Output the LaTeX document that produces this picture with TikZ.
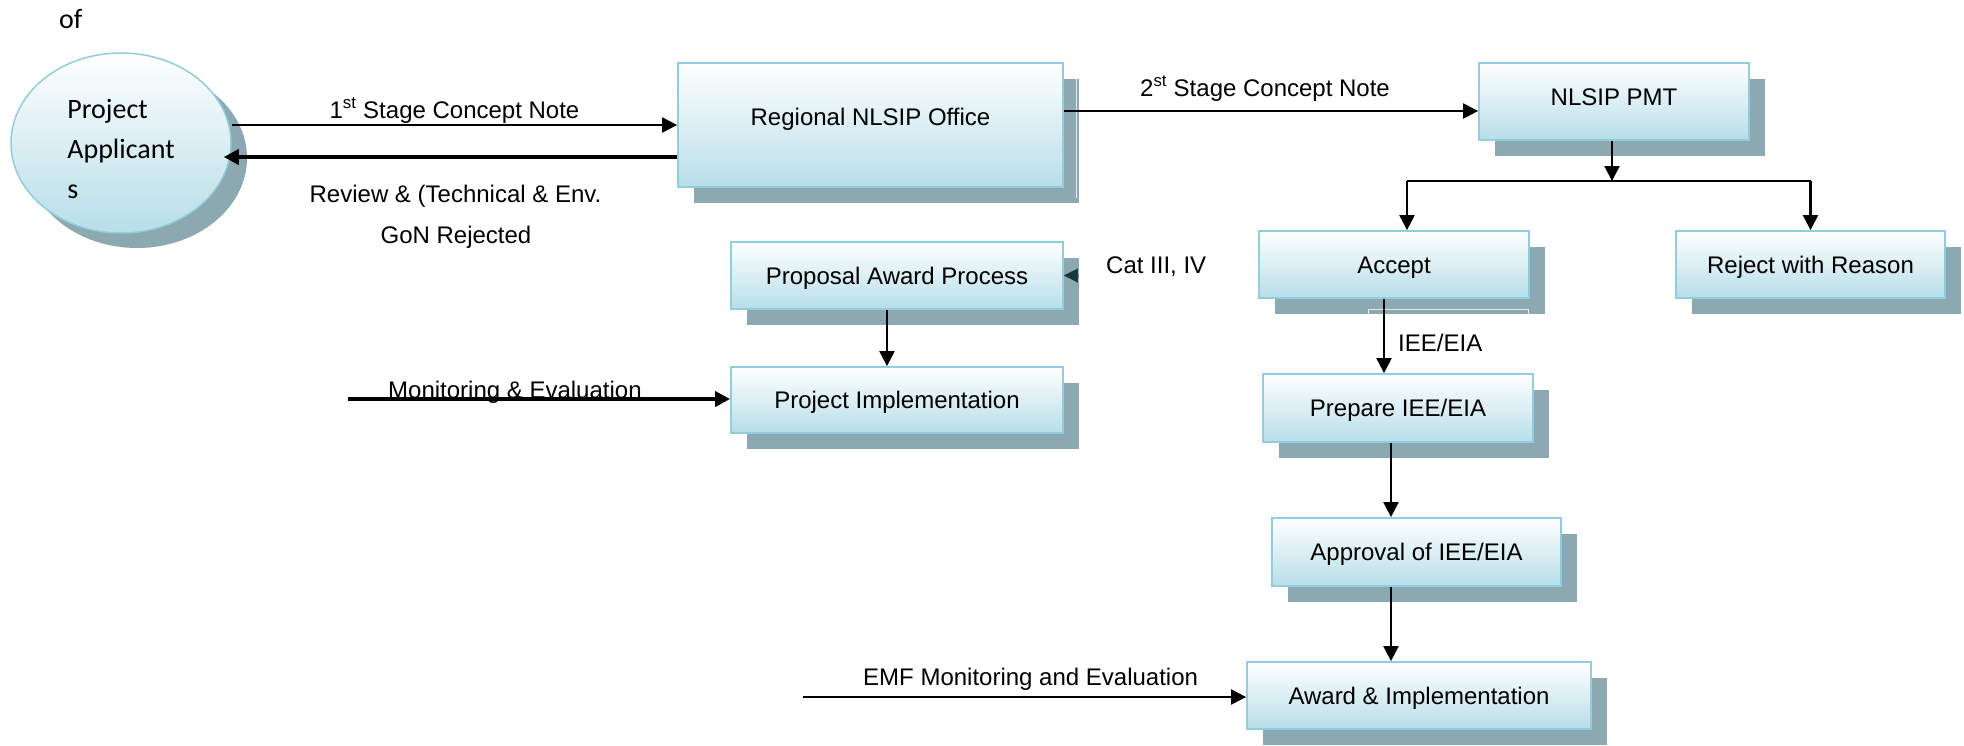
\documentclass[tikz,border=0pt]{standalone}
\usepackage{fontspec}
\setmainfont{Liberation Sans}
\newfontfamily\calib{Carlito}
\usetikzlibrary{arrows.meta,shadows,calc,shapes.geometric}
\definecolor{boxblue}{RGB}{183,222,232}
\definecolor{boxedge}{RGB}{146,205,221}
\definecolor{shadowgray}{RGB}{140,168,176}
\definecolor{catdark}{RGB}{22,54,64}
\begin{document}
\begin{tikzpicture}[x=1pt,y=-1pt,
  flowbox/.style={rectangle, draw=boxedge, line width=1.8pt, top color=white, bottom color=boxblue,
    inner sep=0pt, text height=17.2pt, text depth=0pt, font=\fontsize{24}{28}\selectfont,
    general shadow={shadow xshift=16pt, shadow yshift=-16pt, fill=shadowgray}},
  lbl/.style={inner sep=0pt, font=\fontsize{24}{28}\selectfont},
  arr/.style={line width=2.2pt, -{Triangle[length=15pt,width=15pt]}},
  tharr/.style={line width=3.6pt, -{Triangle[length=15pt,width=15pt]}},
  plainline/.style={line width=2pt},
  catarr/.style={draw=catdark, line width=0.5pt, -{Triangle[length=14pt,width=14pt]}},
  artifact/.style={draw=white!92!black, line width=1pt}
]
\useasboundingbox (0,0) rectangle (1964,745);
\fill[white] (0,0) rectangle (1964,745);

% ellipse
\node[ellipse, draw=boxedge, line width=1.5pt, top color=white, bottom color=boxblue,
  minimum width=220pt, minimum height=180pt, inner sep=0pt, align=left,
  font=\calib\fontsize{28}{40}\selectfont,
  general shadow={shadow xshift=16pt, shadow yshift=-15pt, fill=shadowgray}]
  (pa) at (121,143) {\rule{0pt}{32pt}Project\\Applicant\\s};

\node[anchor=base west, inner sep=0pt, font=\calib\fontsize{28}{34}\selectfont] (of) at (59,28) {of};

% boxes
\node[flowbox, minimum width=385pt, minimum height=124pt] (reg) at (870.5,125) {\raisebox{8pt}{Regional NLSIP Office}};
\node[flowbox, minimum width=270pt, minimum height=77pt] (pmt) at (1614,101.5) {\raisebox{4.5pt}{NLSIP PMT}};
\node[flowbox, minimum width=270pt, minimum height=67pt] (accept) at (1394,264.5) {Accept};
\node[flowbox, minimum width=269pt, minimum height=67pt] (reject) at (1810.5,264.5) {Reject with Reason};
\node[flowbox, minimum width=332pt, minimum height=67pt] (pap) at (897,275.5) {Proposal Award Process};
\node[flowbox, minimum width=332pt, minimum height=66pt] (pi) at (897,400) {Project Implementation};
\node[flowbox, minimum width=270pt, minimum height=68pt] (prep) at (1398,408) {Prepare IEE/EIA};
\node[flowbox, minimum width=289pt, minimum height=68pt] (appr) at (1416.5,552) {Approval of IEE/EIA};
\node[flowbox, minimum width=344pt, minimum height=67pt] (award) at (1419,695.5) {Award \& Implementation};

% artifacts in shadows
\draw[artifact] (1368,314) -- (1368,309.5) -- (1528,309.5) -- (1528,314);
\draw[artifact] (1076,79) -- (1076,198);

% labels
\node[lbl, anchor=base] (l1) at (454.5,118) {1\textsuperscript{st} Stage Concept Note};
\node[lbl, anchor=base] (l2) at (455.5,202) {Review \& (Technical \& Env.};
\node[lbl, anchor=base] (l3) at (456,243) {GoN Rejected};
\node[lbl, anchor=base] (l4) at (1265,96) {2\textsuperscript{st} Stage Concept Note};
\node[lbl, anchor=base west] (l5) at (1106,273) {Cat III, IV};
\node[lbl, anchor=base west] (l6) at (1398,351) {IEE/EIA};
\node[lbl, anchor=base west] (l7) at (388,398) {Monitoring \& Evaluation};
\node[lbl, anchor=base west] (l8) at (863,685) {EMF Monitoring and Evaluation};

% connectors
\draw[arr] (pa.east |- reg.west) -- (reg.west);
\draw[tharr] ([yshift=-32pt]reg.west) -- ($(pa.east)+(-8,14)$);
\draw[arr] ([yshift=14pt]reg.east) -- ([yshift=14pt]reg.east -| pmt.west);

\coordinate (split) at ($(pmt.south |- 0,181)+(-2,0)$);
\coordinate (bl) at (1407,181);
\coordinate (br) at (reject.north |- split);
\draw[arr] ([xshift=-2pt]pmt.south) -- (split);
\draw[plainline] (bl) -- (br);
\draw[arr] (bl) -- (bl |- accept.north);
\draw[arr] (br) -- (reject.north);

\draw[arr] ([xshift=-10pt]accept.south) -- ([xshift=-10pt]accept.south |- prep.north);
\draw[arr] ([xshift=-7pt]prep.south) -- ([xshift=-7pt]prep.south |- appr.north);
\draw[arr] ([xshift=-25.5pt]appr.south) -- ([xshift=-25.5pt]appr.south |- award.north);
\draw[arr] ([xshift=-10pt]pap.south) -- ([xshift=-10pt]pap.south |- pi.north);

\coordinate (mstart) at (348,399);
\draw[tharr] (mstart) -- (mstart -| pi.west);
\coordinate (estart) at (803,697);
\draw[arr] (estart) -- (estart -| award.west);
\coordinate (catend) at (1078,275.5);
\draw[catarr] (catend) -- (pap.east);
\end{tikzpicture}
\end{document}
